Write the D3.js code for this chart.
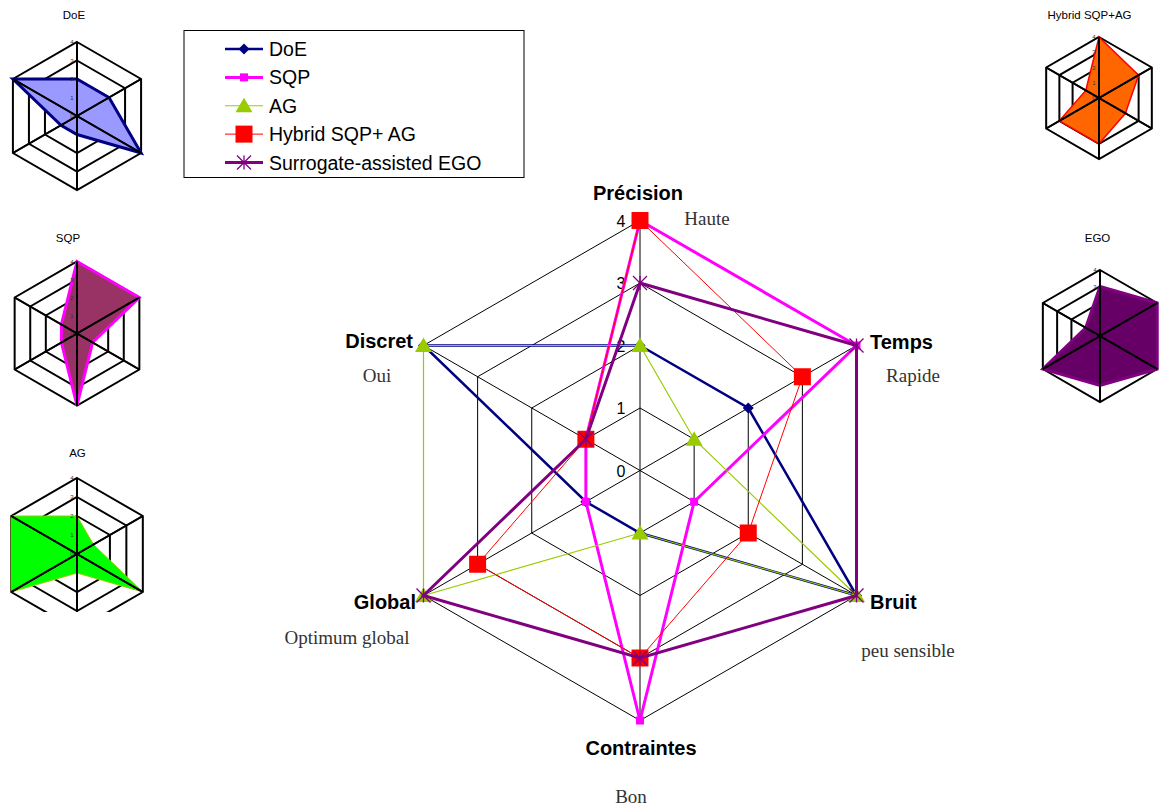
<!DOCTYPE html>
<html><head><meta charset="utf-8">
<script src="https://cdn.jsdelivr.net/npm/d3@7"></script>
<style>
html,body{margin:0;padding:0;background:#fff;}
svg{display:block;}
</style>
</head><body>
<svg id="chart" width="1161" height="812"></svg>
<script>
// ---- data ----
const axes = ["Précision", "Temps", "Bruit", "Contraintes", "Global", "Discret"];
const qualifiers = ["Haute", "Rapide", "peu sensible", "Bon", "Optimum global", "Oui"];
const seriesNames = ["DoE", "SQP", "AG", "Hybrid SQP+ AG", "Surrogate-assisted EGO"];
const doeValues = [2, 2, 4, 1, 1, 4];
const sqpValues = [4, 4, 1, 4, 1, 1];
const agValues = [2, 1, 4, 1, 4, 4];
const hybridValues = [4, 3, 2, 3, 3, 1];
const egoValues = [3, 4, 4, 3, 4, 1];
const tickValues = [0, 1, 2, 3, 4];
const miniTitles = ["DoE", "SQP", "AG", "Hybrid SQP+AG", "EGO"];

const allValues = [doeValues, sqpValues, agValues, hybridValues, egoValues];

// ---- styles ----
const styles = [
  {color: "#000080", width: 2.5, marker: "diamond", size: 11, fill: "#9999FF", miniWidth: 3},
  {color: "#FF00FF", width: 3, marker: "square", size: 8, fill: "#993366", miniWidth: 3},
  {color: "#99CC00", width: 1.2, marker: "triangle", size: 17, fill: "#00FF00", miniWidth: 1},
  {color: "#FF0000", width: 1, marker: "square", size: 17, fill: "#FF6600", miniWidth: 1.5},
  {color: "#800080", width: 3, marker: "star", size: 14, fill: "#660066", miniWidth: 3}
];

const svg = d3.select("#chart");
const angleOf = i => i * Math.PI / 3;           // 0 = top, clockwise
const pt = (r, i) => [r * Math.sin(angleOf(i)), -r * Math.cos(angleOf(i))];

function markerPath(type, size) {
  const h = size / 2;
  if (type === "diamond") return `M0,${-h}L${h},0L0,${h}L${-h},0Z`;
  if (type === "square") return `M${-h},${-h}H${h}V${h}H${-h}Z`;
  if (type === "triangle") return `M0,${-h * 0.95}L${h},${h * 0.75}L${-h},${h * 0.75}Z`;
  if (type === "star") return `M${-h},${-h}L${h},${h}M${-h},${h}L${h},${-h}M0,${-h}V${h}`;
  return "";
}

// ---- main radar ----
const cx = 640, cy = 470.5, R = 250;
const r = d3.scaleLinear().domain([0, 4]).range([0, R]);
const main = svg.append("g").attr("transform", `translate(${cx},${cy})`);
const ringLine = d3.lineRadial().angle((d, i) => angleOf(i)).radius(d => r(d)).curve(d3.curveLinearClosed);

tickValues.filter(t => t > 0).forEach(t => {
  main.append("path").attr("d", ringLine(axes.map(() => t)))
    .attr("fill", "none").attr("stroke", "#000").attr("stroke-width", 1);
});
axes.forEach((a, i) => {
  const [x, y] = pt(r(4), i);
  main.append("line").attr("x1", 0).attr("y1", 0).attr("x2", x).attr("y2", y)
    .attr("stroke", "#000").attr("stroke-width", 1);
});
tickValues.forEach(t => {
  main.append("text").attr("x", -19).attr("y", -r(t) + 6)
    .attr("text-anchor", "middle").attr("font-family", "Liberation Sans, Arial, sans-serif")
    .attr("font-size", 16).attr("fill", "#000").text(t);
});

// axis labels (offsets relative to the outer vertex)
const labelLayout = [
  {dx: -2, dy: -20.5, anchor: "middle"},
  {dx: 13.5, dy: 3.5, anchor: "start"},
  {dx: 13.5, dy: 13, anchor: "start"},
  {dx: 1, dy: 34.5, anchor: "middle"},
  {dx: -7.5, dy: 13, anchor: "end"},
  {dx: -10.5, dy: 2.5, anchor: "end"}
];
const qualLayout = [
  {dx: 67, dy: 4.5}, {dx: 56.5, dy: 36.5}, {dx: 51.5, dy: 61.5},
  {dx: -9, dy: 82}, {dx: -76.5, dy: 48.5}, {dx: -46.5, dy: 36}
];
axes.forEach((a, i) => {
  const [x, y] = pt(r(4), i);
  main.append("text").attr("x", x + labelLayout[i].dx).attr("y", y + labelLayout[i].dy)
    .attr("text-anchor", labelLayout[i].anchor)
    .attr("font-family", "Liberation Sans, Arial, sans-serif").attr("font-weight", "bold")
    .attr("font-size", 20).attr("fill", "#000").text(a);
  main.append("text").attr("x", x + qualLayout[i].dx).attr("y", y + qualLayout[i].dy)
    .attr("text-anchor", "middle")
    .attr("font-family", "Liberation Serif, Times New Roman, serif")
    .attr("font-size", 19).attr("fill", "#333").text(qualifiers[i]);
});

// series
allValues.forEach((vals, s) => {
  const st = styles[s];
  const g = main.append("g");
  g.append("path").attr("d", ringLine(vals)).attr("fill", "none")
    .attr("stroke", st.color).attr("stroke-width", st.width).attr("stroke-linejoin", "miter");
  vals.forEach((v, i) => {
    const [x, y] = pt(r(v), i);
    const m = g.append("path").attr("d", markerPath(st.marker, st.size))
      .attr("transform", `translate(${x},${y})`);
    if (st.marker === "star") m.attr("fill", "none").attr("stroke", st.color).attr("stroke-width", 1.3);
    else m.attr("fill", st.color).attr("stroke", "none");
  });
});

// ---- legend ----
const legend = svg.append("g");
legend.append("rect").attr("x", 184).attr("y", 30.5).attr("width", 340).attr("height", 147)
  .attr("fill", "#fff").attr("stroke", "#000").attr("stroke-width", 1);
const legendY = d3.scalePoint().domain(seriesNames).range([49, 162.5]);
seriesNames.forEach((n, s) => {
  const st = styles[s];
  const y = legendY(n);
  legend.append("line").attr("x1", 225).attr("x2", 263).attr("y1", y).attr("y2", y)
    .attr("stroke", st.color).attr("stroke-width", st.width);
  const m = legend.append("path").attr("d", markerPath(st.marker, st.size))
    .attr("transform", `translate(244,${y})`);
  if (st.marker === "star") m.attr("fill", "none").attr("stroke", st.color).attr("stroke-width", 1.3);
  else m.attr("fill", st.color);
  legend.append("text").attr("x", 269).attr("y", y + 7)
    .attr("font-family", "Liberation Sans, Arial, sans-serif").attr("font-size", 19.5)
    .attr("fill", "#000").text(n);
});

// ---- mini radars ----
const miniLayout = [
  {cx: 77, cy: 116, R: 74, tx: 74, ty: 19},
  {cx: 77, cy: 333.5, R: 72, tx: 68, ty: 241.5},
  {cx: 77, cy: 554, R: 76, tx: 77.5, ty: 457, clip: 612},
  {cx: 1099, cy: 98, R: 61, tx: 1089.5, ty: 19},
  {cx: 1100, cy: 336, R: 66, tx: 1097.5, ty: 241.5}
];
const defs = svg.append("defs");
allValues.forEach((vals, s) => {
  const L = miniLayout[s], st = styles[s];
  const rr = d3.scaleLinear().domain([0, 4]).range([0, L.R]);
  const line = d3.lineRadial().angle((d, i) => angleOf(i)).radius(d => rr(d)).curve(d3.curveLinearClosed);
  svg.append("text").attr("x", L.tx).attr("y", L.ty).attr("text-anchor", "middle")
    .attr("font-family", "Liberation Sans, Arial, sans-serif").attr("font-size", 11.5)
    .attr("fill", "#000").text(miniTitles[s]);
  let g = svg.append("g");
  if (L.clip) {
    defs.append("clipPath").attr("id", "clip" + s).append("rect")
      .attr("x", 0).attr("y", 0).attr("width", 200).attr("height", L.clip);
    g.attr("clip-path", `url(#clip${s})`);
  }
  g = g.append("g").attr("transform", `translate(${L.cx},${L.cy})`);
  tickValues.filter(t => t > 0).forEach(t => {
    g.append("path").attr("d", line(axes.map(() => t))).attr("fill", "none")
      .attr("stroke", "#000").attr("stroke-width", 2);
  });
  g.append("path").attr("d", line(vals)).attr("fill", st.fill)
    .attr("stroke", st.color).attr("stroke-width", st.miniWidth).attr("stroke-linejoin", "miter");
  axes.forEach((a, i) => {
    const [x, y] = pt(rr(4), i);
    g.append("line").attr("x1", -x).attr("y1", -y).attr("x2", x).attr("y2", y)
      .attr("stroke", "#000").attr("stroke-width", 2);
  });
  tickValues.forEach(t => {
    g.append("text").attr("x", -5).attr("y", -rr(t) + 2).attr("text-anchor", "middle")
      .attr("font-family", "Liberation Sans, Arial, sans-serif").attr("font-size", 6)
      .attr("fill", "#333").text(t);
  });
});
</script>
</body></html>
